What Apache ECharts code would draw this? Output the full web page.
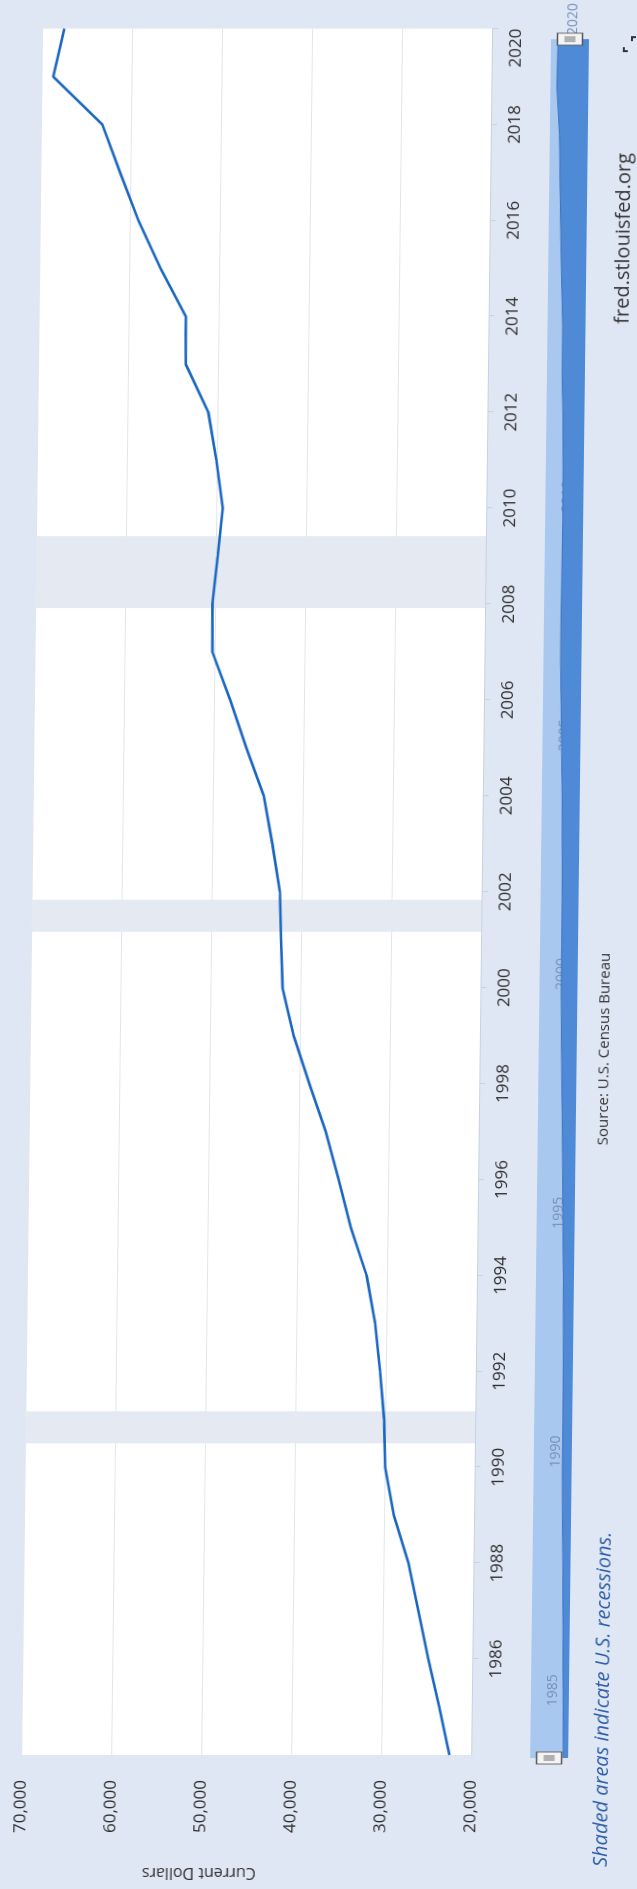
<!DOCTYPE html>
<html>
<head>
<meta charset="utf-8">
<script src="https://cdn.jsdelivr.net/npm/echarts@6/dist/echarts.min.js"></script>
<style>
html, body { margin: 0; padding: 0; background: #dfe7f4; }
#page { position: relative; width: 637px; height: 1889px; overflow: hidden; background: #dfe7f4; }
/* the scanned chart lies on its side, slightly skewed */
#chart {
  position: absolute; left: -626px; top: 626px;
  width: 1889px; height: 637px;
  transform-origin: 50% 50%;
  transform: skewX(-0.695deg) rotate(-90deg);
}
</style>
</head>
<body>
<div id="page"><div id="chart"></div></div>
<script>
// Median household income, current dollars (annual)
const years = [1984, 1985, 1986, 1987, 1988, 1989, 1990, 1991, 1992, 1993, 1994, 1995,
  1996, 1997, 1998, 1999, 2000, 2001, 2002, 2003, 2004, 2005, 2006, 2007, 2008,
  2009, 2010, 2011, 2012, 2013, 2014, 2015, 2016, 2017, 2018, 2019, 2020]
const income = [22415, 23618, 24897, 26061, 27225, 28906, 29943, 30126, 30636, 31241,
  32264, 34076, 35492, 37005, 38885, 40696, 41990, 42228, 42409, 43318, 44334, 46326,
  48201, 50233, 50303, 49777, 49276, 50054, 51017, 53585, 53657, 56516, 59039, 61136,
  63179, 68703, 67521]
// recessions (fractional years)
const recessionStart = [1990.5, 2001.1667, 2007.9167]
const recessionEnd = [1991.1667, 2001.8333, 2009.4167]
const navYears = [1985, 1990, 1995, 2000, 2005, 2010, 2015, 2020]

const font = 'Open Sans'
const points = years.map((y, i) => [y, income[i]])

const chart = echarts.init(document.getElementById('chart'))
const option = {
  animation: false,
  backgroundColor: '#dfe7f4',
  grid: [
    { left: 131, right: 28.5, top: 31, height: 450, show: true, backgroundColor: '#ffffff', borderWidth: 0 },
    { left: 131, right: 28.5, top: 540, height: 38, show: true, backgroundColor: '#a9c8ef', borderWidth: 0 }
  ],
  xAxis: [
    {
      type: 'value', gridIndex: 0, min: 1984, max: 2020, interval: 2,
      axisLine: { show: true, lineStyle: { color: '#c8d2de' } },
      axisTick: { show: true, length: 6, lineStyle: { color: '#c8d2de' } },
      axisLabel: {
        fontSize: 17, fontFamily: font, color: '#2e2e2e', margin: 16,
        showMinLabel: false, alignMaxLabel: 'right',
        formatter: v => String(v)
      },
      splitLine: { show: false }
    },
    {
      type: 'value', gridIndex: 1, min: 1984, max: 2020,
      axisLine: { show: false }, axisTick: { show: false }, splitLine: { show: false },
      axisLabel: {
        inside: true, customValues: navYears, align: 'left', padding: [0, 0, 0, 4],
        margin: 9, fontSize: 14, fontFamily: font, color: '#7590bb',
        formatter: v => String(v)
      }
    }
  ],
  yAxis: [
    {
      type: 'value', gridIndex: 0, min: 20000, max: 70000, interval: 10000,
      name: 'Current Dollars', nameLocation: 'middle', nameRotate: 90, nameGap: 110,
      nameTextStyle: { fontSize: 16, fontFamily: font, color: '#333', padding: [0, 0, 0, 92] },
      axisLine: { show: false }, axisTick: { show: false },
      axisLabel: {
        fontSize: 17, fontFamily: font, color: '#2e2e2e', margin: 25,
        formatter: v => v.toLocaleString('en-US')
      },
      splitLine: { lineStyle: { color: '#e2e6ec', width: 1 } }
    },
    { type: 'value', gridIndex: 1, min: 14000, max: 80000, show: false }
  ],
  series: [
    {
      type: 'line', xAxisIndex: 0, yAxisIndex: 0, data: points,
      symbol: 'none', silent: true,
      lineStyle: { color: '#1a66c2', width: 2.6 },
      markArea: {
        silent: true,
        itemStyle: { color: '#e4e9f2' },
        data: recessionStart.map((s, i) => [{ xAxis: s }, { xAxis: recessionEnd[i] }])
      }
    },
    {
      type: 'line', xAxisIndex: 1, yAxisIndex: 1, data: points,
      symbol: 'none', silent: true,
      lineStyle: { color: '#3a74c6', width: 1 },
      areaStyle: { color: '#4f8ad6', opacity: 1 },
      markPoint: {
        silent: true,
        symbol: 'path://M0,0H12V25H0Z M4,7V18 M6,7V18 M8,7V18',
        symbolSize: [12, 25],
        symbolKeepAspect: false,
        itemStyle: { color: '#f4f4f4', borderColor: '#555', borderWidth: 1.2 },
        label: { show: false },
        data: [{ coord: [years[0], 47000] }, { coord: [years[years.length - 1], 47000] }]
      }
    }
  ],
  graphic: [
    {
      type: 'text', x: 22, y: 612,
      style: { text: 'Shaded areas indicate U.S. recessions.', align: 'left', verticalAlign: 'middle',
        font: 'italic 20px "Open Sans"', fill: '#2f5fa8' }
    },
    {
      type: 'text', x: 840, y: 606,
      style: { text: 'Source: U.S. Census Bureau', align: 'center', verticalAlign: 'middle',
        font: '15px "Open Sans"', fill: '#333' }
    },
    {
      type: 'text', x: 1736, y: 615,
      style: { text: 'fred.stlouisfed.org', align: 'right', verticalAlign: 'middle',
        font: '20px "Open Sans"', fill: '#333' }
    },
    {
      type: 'polyline', shape: { points: [[1838, 617], [1838, 613], [1842, 613]] },
      style: { stroke: '#333', lineWidth: 2, fill: null }
    },
    {
      type: 'polyline', shape: { points: [[1848, 621], [1852, 621], [1852, 625]] },
      style: { stroke: '#333', lineWidth: 2, fill: null }
    }
  ]
}
chart.setOption(option)
</script>
</body>
</html>
